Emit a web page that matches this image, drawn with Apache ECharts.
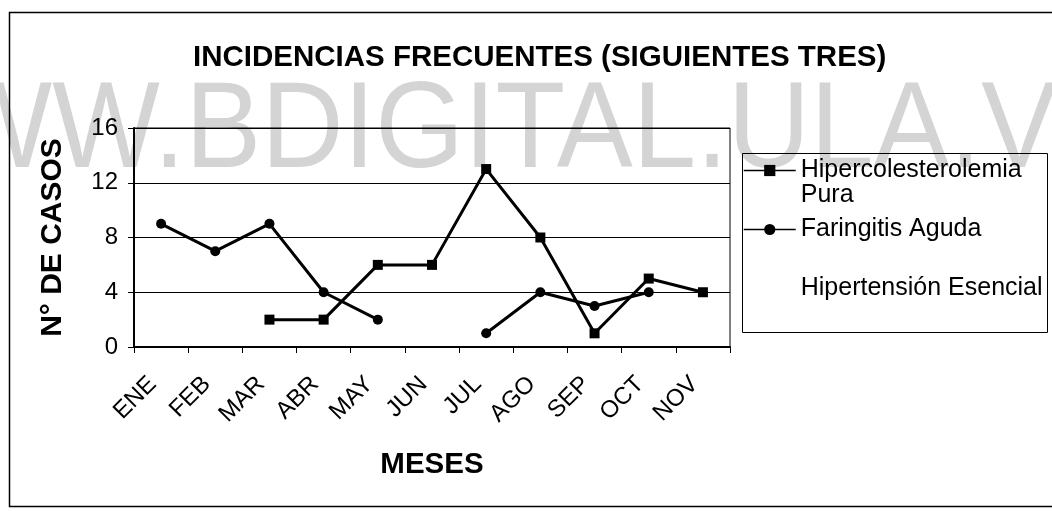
<!DOCTYPE html>
<html>
<head>
<meta charset="utf-8">
<title>Incidencias frecuentes</title>
<script src="https://cdn.jsdelivr.net/npm/echarts@6/dist/echarts.min.js"></script>
<style>
  html, body { margin: 0; padding: 0; background: #fff; }
  #myChart { width: 1052px; height: 511px; }
</style>
</head>
<body>
<div id="myChart"></div>
<script>
// datos
var meses = ['ENE', 'FEB', 'MAR', 'ABR', 'MAY', 'JUN', 'JUL', 'AGO', 'SEP', 'OCT', 'NOV'];
var hipercolesterolemia = [null, null, 2, 2, 6, 6, 13, 8, 1, 5, 4];
var faringitis = [9, 7, 9, 4, 2, null, 1, 4, 3, 4, null];
var hipertension = [null, null, null, null, null, null, null, null, null, null, null];
var yTicks = [0, 4, 8, 12, 16];

var font = 'Liberation Sans, Arial, sans-serif';

var Chart = echarts.init(document.getElementById('myChart'));

Chart.setOption({
  animation: false,
  textStyle: { fontFamily: font, color: '#000' },
  title: {
    text: 'INCIDENCIAS FRECUENTES (SIGUIENTES TRES)',
    left: 193,
    top: 43,
    padding: 0,
    textStyle: { fontSize: 29.5, fontWeight: 'bold', color: '#000', fontFamily: font }
  },
  graphic: [
    // marca de agua
    {
      type: 'text',
      x: -163,
      y: 133,
      scaleY: 1.07,
      z: -1,
      silent: true,
      style: {
        text: 'WWW.BDIGITAL.ULA.VE',
        x: 0, y: 0,
        fontSize: 114,
        fontFamily: font,
        fill: '#d4d4d4',
        verticalAlign: 'middle'
      }
    },
    // borde exterior
    {
      type: 'rect',
      shape: { x: 9.5, y: 12.5, width: 1100, height: 494 },
      style: { fill: 'none', stroke: '#000', lineWidth: 1.5 },
      silent: true
    },
    // borde de la leyenda
    {
      type: 'rect',
      shape: { x: 742.5, y: 153.5, width: 305, height: 179 },
      style: { fill: 'none', stroke: '#000', lineWidth: 1 },
      silent: true
    }
  ],
  legend: {
    orient: 'vertical',
    left: 743,
    top: 133,
    padding: 0,
    itemWidth: 52,
    itemHeight: 14,
    itemGap: 9,
    selectedMode: false,
    lineStyle: { width: 1.5 },
    textStyle: { fontSize: 25, lineHeight: 25, color: '#000', fontFamily: font },
    data: ['Hipercolesterolemia Pura', 'Faringitis Aguda', 'Hipertensión Esencial'],
    formatter: function (name) {
      if (name === 'Hipercolesterolemia Pura') return '\u00a0\nHipercolesterolemia\nPura';
      if (name === 'Hipertensión Esencial') return '\u00a0\nHipertensión Esencial\n\u00a0';
      return name;
    }
  },
  grid: {
    left: 134,
    right: 322,
    top: 128,
    bottom: 164,
    show: true,
    borderColor: '#000',
    borderWidth: 1,
    containLabel: false
  },
  xAxis: {
    type: 'category',
    data: meses,
    boundaryGap: true,
    name: 'MESES',
    nameLocation: 'middle',
    nameGap: 103,
    nameTextStyle: { fontSize: 29.5, fontWeight: 'bold', color: '#000', fontFamily: font },
    axisLine: { lineStyle: { color: '#000', width: 2 } },
    axisTick: { show: true, inside: false, length: 6, interval: 0, lineStyle: { color: '#000', width: 1 } },
    axisLabel: {
      rotate: 45,
      interval: 0,
      fontSize: 24,
      color: '#000',
      margin: 25,
      padding: [0, 12, 0, 0]
    },
    splitLine: { show: false }
  },
  yAxis: {
    type: 'value',
    min: yTicks[0],
    max: yTicks[yTicks.length - 1],
    interval: 4,
    name: 'N° DE CASOS',
    nameLocation: 'middle',
    nameGap: 66,
    nameRotate: 90,
    nameTextStyle: { fontSize: 30, fontWeight: 'bold', color: '#000', fontFamily: font },
    axisLine: { show: true, lineStyle: { color: '#000', width: 2 } },
    axisTick: { show: true, inside: false, length: 6, lineStyle: { color: '#000', width: 1 } },
    axisLabel: { fontSize: 24, color: '#000', margin: 16 },
    splitLine: { show: true, lineStyle: { color: '#000', width: 1 } }
  },
  series: [
    {
      name: 'Hipercolesterolemia Pura',
      type: 'line',
      data: hipercolesterolemia,
      connectNulls: false,
      symbol: 'rect',
      symbolSize: 10,
      color: '#000',
      lineStyle: { color: '#000', width: 3 },
      itemStyle: { color: '#000' }
    },
    {
      name: 'Faringitis Aguda',
      type: 'line',
      data: faringitis,
      connectNulls: false,
      symbol: 'circle',
      symbolSize: 10,
      color: '#000',
      lineStyle: { color: '#000', width: 3 },
      itemStyle: { color: '#000' }
    },
    {
      // sin linea visible en el original
      name: 'Hipertensión Esencial',
      type: 'line',
      data: hipertension,
      showSymbol: false,
      color: 'rgba(0,0,0,0)',
      lineStyle: { color: 'rgba(0,0,0,0)', width: 0 },
      itemStyle: { color: 'rgba(0,0,0,0)' }
    }
  ]
});
</script>
</body>
</html>
